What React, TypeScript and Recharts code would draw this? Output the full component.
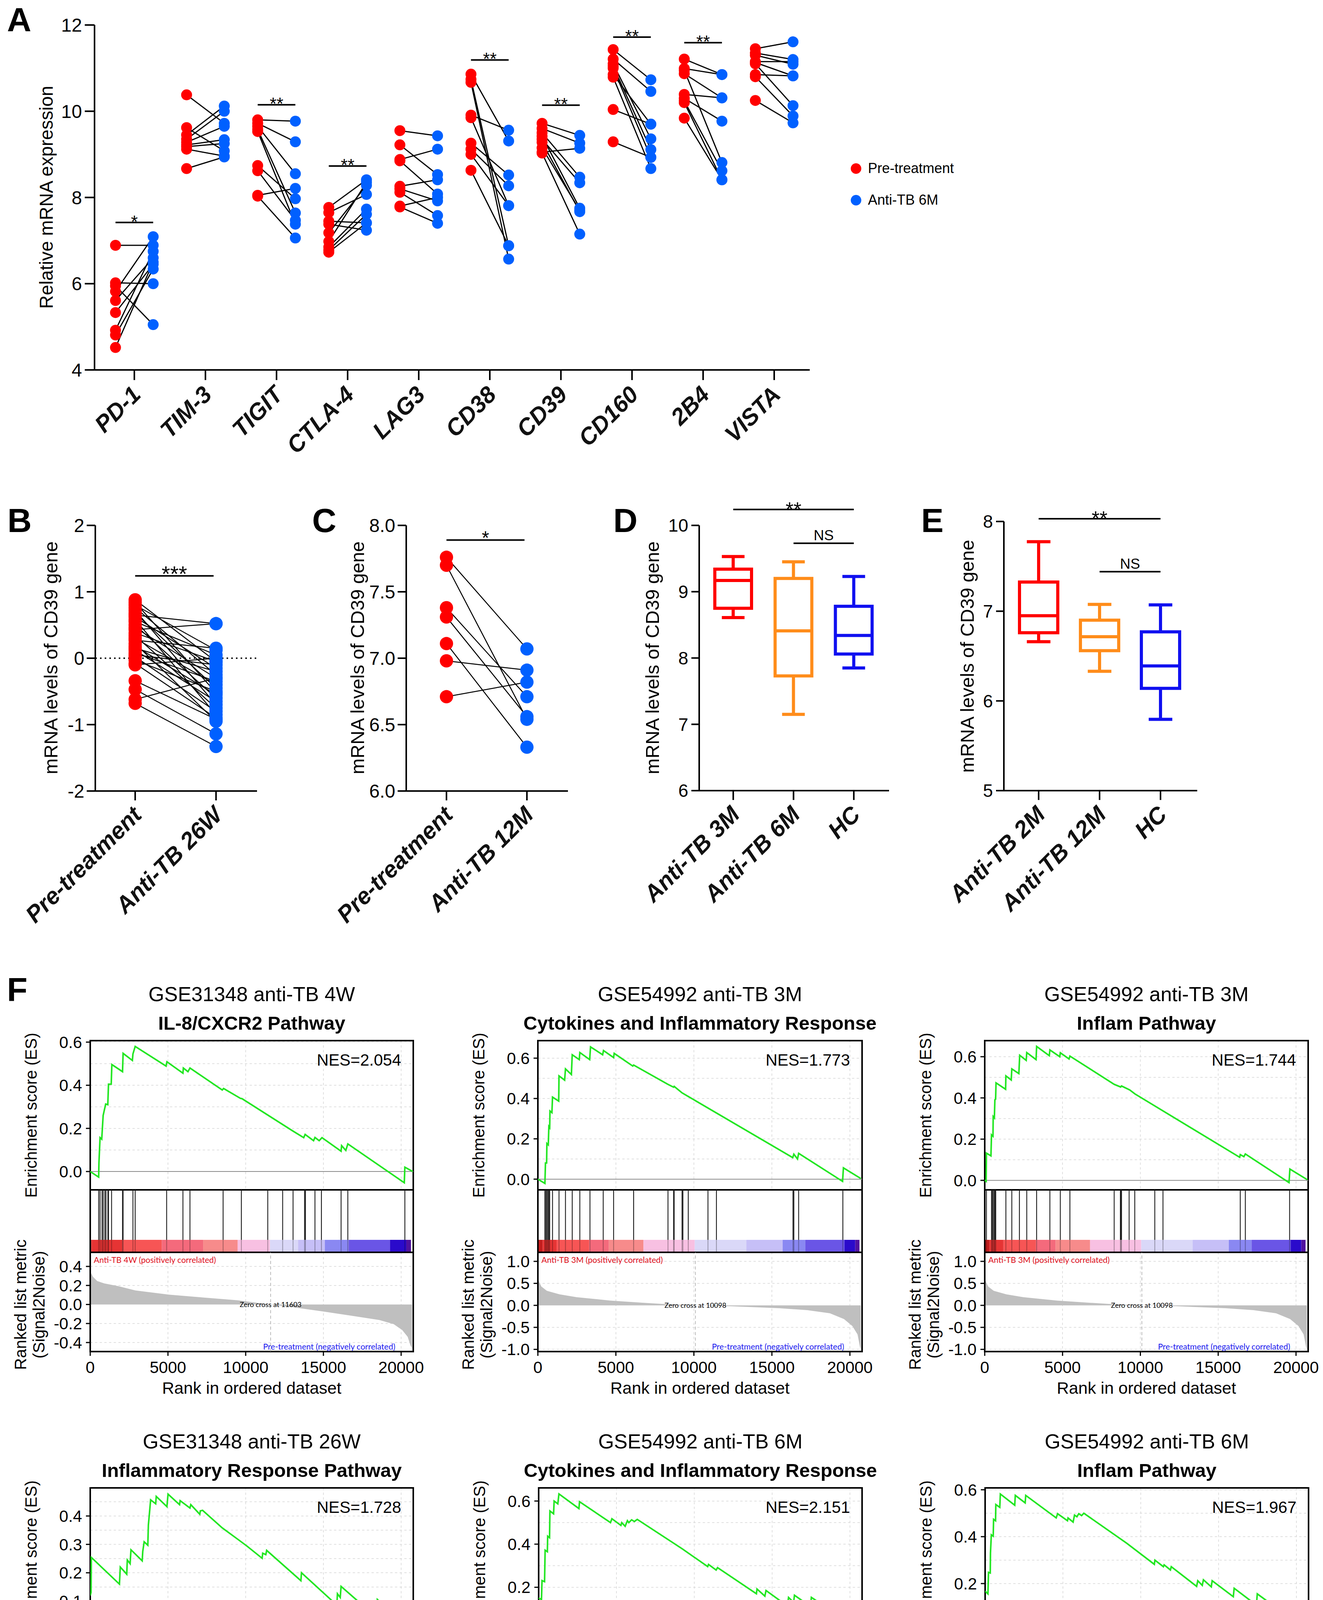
import {
  ComposedChart,
  LineChart,
  Line,
  AreaChart,
  Area,
  Scatter,
  Bar,
  XAxis,
  YAxis,
  CartesianGrid,
  ReferenceLine,
  ReferenceArea,
  ReferenceDot,
} from 'recharts'

const FONT = 'Arial, "Liberation Sans", Helvetica, sans-serif'
const SMALL_FONT = 'Lato, "Open Sans", sans-serif'

// ---------- panel A ----------
const genes = ['PD-1', 'TIM-3', 'TIGIT', 'CTLA-4', 'LAG3', 'CD38', 'CD39', 'CD160', '2B4', 'VISTA']
const preTreatmentA = [
  [6.89, 6.02, 5.95, 5.82, 5.61, 5.33, 4.92, 4.81, 4.52],
  [10.38, 9.62, 9.45, 9.35, 9.28, 9.22, 9.18, 9.12, 8.67],
  [9.8, 9.72, 9.65, 9.58, 9.53, 8.74, 8.62, 8.05, 8.03],
  [7.77, 7.65, 7.45, 7.38, 7.18, 6.98, 6.85, 6.78, 6.73],
  [9.55, 9.22, 8.88, 8.85, 8.26, 8.2, 8.12, 7.8, 7.78],
  [10.86, 10.74, 10.67, 9.91, 9.85, 9.26, 9.12, 9.0, 8.63],
  [9.72, 9.6, 9.5, 9.42, 9.35, 9.28, 9.05, 9.15, 9.03],
  [11.43, 11.21, 11.1, 11.05, 11.0, 10.85, 10.79, 10.04, 9.29],
  [11.21, 10.99, 10.95, 10.87, 10.39, 10.3, 10.24, 10.2, 9.84],
  [11.45, 11.35, 11.3, 11.15, 11.13, 11.1, 10.85, 10.8, 10.25],
]
const antiTB6MA = [
  [6.89, 6.0, 5.05, 7.09, 6.6, 6.45, 6.75, 6.34, 6.5],
  [9.72, 9.08, 10.12, 10.0, 9.65, 9.34, 9.25, 8.96, 8.94],
  [9.77, 9.29, 8.55, 7.64, 7.38, 7.97, 7.47, 8.21, 7.06],
  [8.41, 8.07, 7.41, 7.24, 8.28, 8.35, 7.73, 7.61, 7.41],
  [9.43, 8.53, 9.12, 8.08, 8.41, 7.92, 7.58, 8.0, 7.4],
  [9.31, 6.88, 6.57, 9.56, 7.81, 8.52, 8.27, 7.81, 6.88],
  [9.44, 9.26, 8.47, 7.75, 8.34, 7.67, 9.14, 7.7, 7.15],
  [10.73, 10.46, 9.36, 9.11, 8.93, 9.7, 8.67, 9.7, 8.93],
  [10.85, 10.85, 8.81, 10.31, 10.31, 9.77, 8.62, 8.41, 8.41],
  [11.61, 11.2, 11.09, 11.15, 10.82, 10.13, 10.82, 9.89, 9.73],
]
const sigGeneA = [0, 2, 3, 5, 6, 7, 8]
const sigHeightA = [7.42, 10.15, 8.73, 11.19, 10.14, 11.72, 11.59]
const sigTextA = ['*', '**', '**', '**', '**', '**', '**']

// ---------- panel B / C ----------
const groupsB = ['Pre-treatment', 'Anti-TB 26W']
const preB = [0.88, 0.84, 0.8, 0.76, 0.72, 0.68, 0.65, 0.62, 0.58, 0.55, 0.5, 0.46, 0.43, 0.38, 0.34, 0.3, 0.27, 0.22, 0.18, 0.15, 0.12, 0.08, 0.05, 0.02, -0.03, -0.08, -0.1, -0.34, -0.47, -0.62, -0.68]
const postB = [-0.05, -0.52, 0.12, -0.25, -0.7, -0.45, 0.52, -0.15, -0.85, 0.05, -0.6, -0.3, 0.52, -0.05, -0.75, -0.4, 0.15, -0.95, -0.55, -0.2, -0.65, -0.35, -0.1, -0.8, -0.5, -0.9, 0.0, -0.92, -1.14, -0.3, -1.33]
const groupsC = ['Pre-treatment', 'Anti-TB 12M']
const preC = [7.76, 7.7, 7.38, 7.31, 7.11, 6.98, 6.71]
const postC = [7.07, 6.54, 6.71, 6.56, 6.33, 6.91, 6.82]

// ---------- panel D / E (box plots) ----------
const groupsD = ['Anti-TB 3M', 'Anti-TB 6M', 'HC']
const minD = [8.61, 7.15, 7.85]
const q1D = [8.75, 7.73, 8.06]
const medD = [9.17, 8.41, 8.34]
const q3D = [9.34, 9.2, 8.78]
const maxD = [9.53, 9.45, 9.23]
const groupsE = ['Anti-TB 2M', 'Anti-TB 12M', 'HC']
const minE = [6.66, 6.33, 5.795]
const q1E = [6.76, 6.56, 6.14]
const medE = [6.95, 6.716, 6.39]
const q3E = [7.325, 6.9, 6.77]
const maxE = [7.775, 7.076, 7.07]
const boxColors = ['#ff0000', '#ff8c1a', '#1010f0']

// ---------- panel F (GSEA) ----------
const gseaTitles = ['GSE31348 anti-TB 4W', 'GSE54992 anti-TB 3M', 'GSE54992 anti-TB 3M', 'GSE31348 anti-TB 26W', 'GSE54992 anti-TB 6M', 'GSE54992 anti-TB 6M']
const gseaPathways = ['IL-8/CXCR2 Pathway', 'Cytokines and Inflammatory Response', 'Inflam Pathway', 'Inflammatory Response Pathway', 'Cytokines and Inflammatory Response', 'Inflam Pathway']
const gseaNes = ['2.054', '1.773', '1.744', '1.728', '2.151', '1.967']
const zeroCross = [11603, 10098, 10098, 8470, 8998, 8998]
const posGroup = ['Anti-TB 4W', 'Anti-TB 3M', 'Anti-TB 3M', 'Anti-TB 26W', 'Anti-TB 6M', 'Anti-TB 6M']
const GENES_N = 20780

const es1 = [[0, 0], [542, -0.026], [560, 0.039], [632, 0.157], [740, 0.15], [831, 0.26], [994, 0.313], [1130, 0.31], [1175, 0.405], [1350, 0.405], [1391, 0.496], [2078, 0.463], [2114, 0.548], [2711, 0.515], [2747, 0.545], [2891, 0.58], [4879, 0.489], [4933, 0.509], [5963, 0.456], [5990, 0.48], [6288, 0.463], [6415, 0.48], [8493, 0.378], [8580, 0.385], [9667, 0.339], [9760, 0.338], [13010, 0.189], [13733, 0.157], [13823, 0.172], [14366, 0.143], [14456, 0.158], [14727, 0.143], [14908, 0.157], [16136, 0.094], [16170, 0.12], [16443, 0.098], [16570, 0.128], [20203, -0.052], [20239, 0.02], [20745, 0]]
const es2 = [[0, 0], [451, -0.021], [487, 0.08], [560, 0.08], [578, 0.177], [668, 0.17], [704, 0.261], [758, 0.255], [776, 0.338], [900, 0.33], [939, 0.407], [1336, 0.387], [1354, 0.512], [1715, 0.491], [1769, 0.547], [2148, 0.519], [2202, 0.617], [2653, 0.593], [2689, 0.628], [3321, 0.593], [3375, 0.656], [4151, 0.617], [4206, 0.638], [4855, 0.603], [4891, 0.624], [6083, 0.561], [6137, 0.566], [8339, 0.47], [8700, 0.456], [8736, 0.46], [9241, 0.428], [9639, 0.41], [16335, 0.107], [16407, 0.124], [16642, 0.1], [16714, 0.128], [19530, -0.011], [19584, 0.056], [20703, 0.003]]
const es3 = [[0, 0], [90, -0.005], [109, 0.132], [399, 0.119], [435, 0.221], [530, 0.214], [544, 0.31], [620, 0.303], [652, 0.391], [700, 0.394], [725, 0.473], [1341, 0.442], [1359, 0.507], [1703, 0.487], [1740, 0.541], [2193, 0.518], [2247, 0.607], [2664, 0.582], [2700, 0.62], [3298, 0.586], [3334, 0.65], [4149, 0.605], [4186, 0.633], [4820, 0.6], [4856, 0.619], [5418, 0.589], [5472, 0.603], [8317, 0.466], [8734, 0.453], [8788, 0.458], [9314, 0.439], [9640, 0.42], [16380, 0.112], [16417, 0.125], [16652, 0.115], [16743, 0.128], [19551, -0.011], [19606, 0.055], [20729, 0.003]]
const es4 = [[0, 0.12], [54, 0.131], [72, 0.254], [1879, 0.16], [1933, 0.22], [2349, 0.195], [2385, 0.245], [2566, 0.232], [2620, 0.281], [3343, 0.242], [3379, 0.275], [3469, 0.309], [3704, 0.297], [3740, 0.368], [3831, 0.423], [3885, 0.457], [4210, 0.443], [4246, 0.469], [4933, 0.433], [5005, 0.477], [5746, 0.44], [5782, 0.454], [6415, 0.428], [6469, 0.44], [7047, 0.406], [7083, 0.418], [7228, 0.42], [8493, 0.358], [9541, 0.316], [10083, 0.294], [11059, 0.251], [11095, 0.269], [11294, 0.264], [11348, 0.279], [13552, 0.172], [13588, 0.2], [15865, 0.086], [15901, 0.126], [16082, 0.113], [16136, 0.152], [18431, 0.042], [18467, 0.106], [20690, 0]]
const es5 = [[0, 0.15], [181, 0.143], [217, 0.231], [380, 0.226], [398, 0.3], [416, 0.372], [560, 0.365], [579, 0.437], [700, 0.43], [724, 0.554], [959, 0.541], [995, 0.6], [1231, 0.587], [1303, 0.633], [2588, 0.565], [2625, 0.597], [4616, 0.5], [4706, 0.518], [5285, 0.487], [5340, 0.5], [5557, 0.483], [5702, 0.509], [5792, 0.5], [5973, 0.513], [6150, 0.505], [6335, 0.515], [9231, 0.378], [10860, 0.296], [10914, 0.306], [11403, 0.28], [11494, 0.291], [13991, 0.17], [14028, 0.192], [14534, 0.159], [14607, 0.185], [15982, 0.113], [16055, 0.153], [16381, 0.13], [16435, 0.163], [17467, 0.111], [17521, 0.153], [20725, 0]]
const es6 = [[0, 0.168], [181, 0.156], [217, 0.248], [330, 0.245], [344, 0.33], [399, 0.408], [520, 0.402], [544, 0.474], [670, 0.468], [688, 0.537], [942, 0.525], [978, 0.582], [1902, 0.534], [1939, 0.576], [2573, 0.544], [2609, 0.576], [4566, 0.48], [4657, 0.498], [5291, 0.468], [5327, 0.48], [5653, 0.462], [5744, 0.492], [5900, 0.485], [6016, 0.498], [6200, 0.49], [6342, 0.5], [9096, 0.372], [10872, 0.282], [10908, 0.3], [11452, 0.272], [11500, 0.28], [11905, 0.258], [11959, 0.272], [13590, 0.188], [13662, 0.212], [13952, 0.192], [14025, 0.216], [14532, 0.186], [14587, 0.212], [15946, 0.144], [16000, 0.18], [17431, 0.108], [17486, 0.156], [20693, 0]]

const hits1 = [542, 632, 759, 831, 940, 1012, 1138, 1175, 1373, 2078, 2114, 2747, 2891, 4915, 5963, 6415, 8547, 9722, 11420, 12378, 13047, 13788, 13842, 14456, 14872, 16137, 16570, 20239]
const hits2 = [451, 487, 560, 596, 668, 704, 758, 939, 1354, 1769, 2202, 2689, 3339, 4188, 4855, 6137, 8339, 8700, 8736, 9242, 9296, 9639, 10902, 11444, 16353, 16407, 16714, 19548]
const hits3 = [109, 435, 489, 544, 616, 652, 707, 1359, 1740, 2229, 2700, 3334, 4186, 4856, 5472, 8317, 8716, 8752, 8788, 9277, 9640, 10926, 11452, 16417, 16743, 19588]
const hits4 = [54, 1879, 2367, 2584, 3379, 3469, 3740, 3795, 3831, 3885, 3921, 4246, 4969, 5005, 5782, 6451, 7065, 7101, 7228, 8493, 9541, 10083, 11059, 11095, 11348, 13588, 15884, 16137, 18467]
const hits5 = [217, 308, 398, 489, 579, 724, 995, 1285, 2625, 4652, 5340, 5702, 5792, 5883, 6064, 6190, 6335, 9177, 10896, 11457, 13991, 14571, 16019, 16381, 17503]
const hits6 = [217, 272, 344, 399, 507, 544, 652, 688, 978, 1939, 2609, 4639, 5327, 5708, 5798, 6161, 6306, 6342, 9187, 10872, 11470, 11941, 13626, 13988, 14568, 15982, 17468]

const metric4W = [[0, 0.38], [20, 0.34], [180, 0.29], [450, 0.246], [900, 0.222], [1800, 0.193], [2900, 0.148], [5060, 0.104], [7230, 0.074], [9490, 0.044], [11603, 0.0], [13100, -0.03], [15000, -0.074], [16800, -0.118], [18600, -0.163], [19520, -0.207], [20060, -0.267], [20420, -0.34], [20600, -0.43], [20700, -0.46]]
const metric3M = [[0, 0.6], [36, 0.57], [217, 0.43], [578, 0.33], [1390, 0.25], [2473, 0.186], [4640, 0.109], [6805, 0.058], [8070, 0.032], [10098, 0], [12220, -0.019], [15470, -0.064], [17274, -0.109], [18718, -0.18], [19620, -0.31], [20160, -0.47], [20487, -0.66], [20650, -0.95], [20700, -1.0]]
const metric26W = [[0, 0.75], [36, 0.67], [180, 0.56], [540, 0.45], [1445, 0.35], [3250, 0.22], [5060, 0.134], [6870, 0.06], [8470, 0], [10480, -0.075], [13190, -0.164], [15900, -0.26], [17710, -0.336], [19150, -0.43], [19880, -0.56], [20330, -0.75], [20560, -0.97], [20650, -1.3]]
const metric6M = [[0, 0.62], [36, 0.57], [181, 0.43], [543, 0.33], [1357, 0.25], [2805, 0.19], [4616, 0.124], [6607, 0.055], [8780, 0.02], [8998, 0], [10950, -0.048], [13665, -0.117], [16380, -0.186], [18190, -0.254], [19460, -0.357], [20180, -0.53], [20507, -0.7], [20650, -1.18]]

const bins4W = [90, 2078, 4608, 7264, 9487, 11565, 13372, 15088, 16624, 19280, 20328, 20635]
const bins3M = [307, 1200, 3285, 4549, 6769, 10054, 13357, 15685, 17148, 19656, 20342, 20613]
const bins26W = [50, 940, 3343, 4788, 6451, 8493, 10752, 13335, 15630, 18919, 20148, 20636]
const bins6M = [235, 1200, 3204, 4670, 6643, 8960, 11494, 13973, 15982, 19367, 20290, 20634]

const esCurves = [es1, es2, es3, es4, es5, es6]
const hitRanks = [hits1, hits2, hits3, hits4, hits5, hits6]
const metricCurves = [metric4W, metric3M, metric3M, metric26W, metric6M, metric6M]
const colorBins = [bins4W, bins3M, bins3M, bins26W, bins6M, bins6M]

// axis settings for the GSEA panels
const esDomains = [[-0.085, 0.607], [-0.053, 0.687], [-0.046, 0.678], [-0.028, 0.499], [-0.033, 0.661], [-0.03, 0.608]]
const metricDomains = [[-0.495, 0.548], [-1.05, 1.205], [-1.05, 1.205], [-1.455, 1.19], [-1.29, 1.15], [-1.29, 1.15]]
const esTickSets = [[0, 0.2, 0.4, 0.6], [0, 0.2, 0.4, 0.6], [0, 0.2, 0.4, 0.6], [0, 0.1, 0.2, 0.3, 0.4], [0, 0.2, 0.4, 0.6], [0, 0.2, 0.4, 0.6]]
const metricTickSets = [[-0.4, -0.2, 0, 0.2, 0.4], [-1, -0.5, 0, 0.5, 1], [-1, -0.5, 0, 0.5, 1], [-1, -0.5, 0, 0.5, 1], [-1, -0.5, 0, 0.5, 1], [-1, -0.5, 0, 0.5, 1]]
const barPalette = ['#c41e1e', '#e63434', '#f75555', '#f46a7c', '#f78b8b', '#f8c0e2', '#dad8f8', '#c6bff7', '#8a88f2', '#6a55e6', '#2a0acb', '#50129e']

// layout
const gseaBoxX = [[231, 1058], [1377, 2207], [2521, 3349], [231, 1058], [1379, 2207], [2522, 3350]]
const gseaRows = [
  { es: 2664, hits: 3046, met: 3206, bottom: 3460 },
  { es: 3809, hits: 4192, met: 4351, bottom: 4607 },
]

const OFF = 0.265

type TxtProps = {
  x: number
  y: number
  size: number
  children: any
  anchor?: 'start' | 'middle' | 'end'
  bold?: boolean
  italic?: boolean
  color?: string
  rotate?: number
  family?: string
}

function Txt({ x, y, size, children, anchor = 'middle', bold, italic, color = '#000', rotate, family }: TxtProps) {
  const tx = anchor === 'middle' ? '-50%' : anchor === 'end' ? '-100%' : '0'
  return (
    <div
      style={{
        position: 'absolute',
        left: x,
        top: y,
        fontSize: size,
        lineHeight: 1,
        whiteSpace: 'nowrap',
        fontWeight: bold ? 700 : 400,
        fontStyle: italic ? 'italic' : 'normal',
        color,
        fontFamily: family || FONT,
        transform: `translate(${tx}, -50%)${rotate ? ` rotate(${rotate}deg)` : ''}`,
      }}
    >
      {children}
    </div>
  )
}

const AngledTick = (props: any) => {
  const { x, y, payload, names } = props
  const label = names ? names[payload.value] : payload.value
  const ax = x + 20
  const ay = y + 41
  return (
    <text
      x={ax}
      y={ay}
      transform={`rotate(-45 ${ax} ${ay})`}
      textAnchor="end"
      fontSize={60}
      fontWeight={700}
      fontStyle="italic"
      fill="#111"
      fontFamily={FONT}
    >
      {label}
    </text>
  )
}

const SigText = (props: any) => {
  const vb = props.viewBox
  if (!vb) return null
  return (
    <text
      x={vb.x + (vb.width || 0) / 2}
      y={vb.y + props.dy}
      textAnchor="middle"
      fontSize={props.size}
      fill="#000"
      fontFamily={FONT}
    >
      {props.text}
    </text>
  )
}

const dotShape = (color: string, r: number) => (p: any) => <circle cx={p.cx} cy={p.cy} r={r} fill={color} />

const axisStyle = { stroke: '#000', strokeWidth: 4 }

function PanelA() {
  const red = genes.flatMap((_, i) => preTreatmentA[i].map((v) => ({ x: i - OFF, y: v })))
  const blue = genes.flatMap((_, i) => antiTB6MA[i].map((v) => ({ x: i + OFF, y: v })))
  return (
    <div style={{ position: 'absolute', left: 0, top: 0 }}>
      <ComposedChart width={2200} height={1250} margin={{ top: 64, right: 127, left: 0, bottom: 0 }}>
        <XAxis
          type="number"
          dataKey="x"
          domain={[-0.56, 9.5]}
          ticks={genes.map((_, i) => i)}
          interval={0}
          height={303}
          tickSize={26}
          tickMargin={0}
          axisLine={axisStyle}
          tickLine={axisStyle}
          tick={<AngledTick names={genes} />}
          allowDataOverflow
        />
        <YAxis
          type="number"
          dataKey="y"
          domain={[4, 12]}
          ticks={[4, 6, 8, 10, 12]}
          interval={0}
          width={242}
          tickSize={25}
          tickMargin={7}
          axisLine={axisStyle}
          tickLine={axisStyle}
          tick={{ fontSize: 48, fill: '#000' }}
          allowDataOverflow
        />
        {genes.flatMap((g, i) =>
          preTreatmentA[i].map((v, j) => (
            <Line
              key={`${g}-${j}`}
              data={[
                { x: i - OFF, y: v },
                { x: i + OFF, y: antiTB6MA[i][j] },
              ]}
              dataKey="y"
              stroke="#000"
              strokeWidth={3}
              dot={false}
              activeDot={false}
              legendType="none"
              isAnimationActive={false}
            />
          )),
        )}
        {sigGeneA.map((gi, k) => (
          <ReferenceLine
            key={`sig-${k}`}
            segment={[
              { x: gi - OFF, y: sigHeightA[k] },
              { x: gi + OFF, y: sigHeightA[k] },
            ]}
            stroke="#000"
            strokeWidth={4}
            ifOverflow="visible"
            label={<SigText text={sigTextA[k]} dy={13} size={45} />}
          />
        ))}
        <Scatter data={red} shape={dotShape('#ff0000', 14)} isAnimationActive={false} />
        <Scatter data={blue} shape={dotShape('#0060ff', 14)} isAnimationActive={false} />
      </ComposedChart>
    </div>
  )
}

function PairedPanel(props: {
  left: number
  top: number
  yWidth: number
  right: number
  xDomain: number[]
  yDomain: number[]
  yTicks: number[]
  fmt: (v: number) => string
  groups: string[]
  pre: number[]
  post: number[]
  sigY: number
  sigText: string
  sigSize: number
  sigDy: number
  zeroLine?: boolean
}) {
  const { pre, post } = props
  const red = pre.map((v) => ({ x: 0, y: v }))
  const blue = post.map((v) => ({ x: 1, y: v }))
  return (
    <div style={{ position: 'absolute', left: props.left, top: props.top }}>
      <ComposedChart width={700} height={1000} margin={{ top: 45, right: props.right, left: 0, bottom: 0 }}>
        <XAxis
          type="number"
          dataKey="x"
          domain={props.xDomain}
          ticks={[0, 1]}
          interval={0}
          height={275}
          tickSize={24}
          tickMargin={0}
          axisLine={axisStyle}
          tickLine={axisStyle}
          tick={<AngledTick names={props.groups} />}
          allowDataOverflow
        />
        <YAxis
          type="number"
          dataKey="y"
          domain={props.yDomain}
          ticks={props.yTicks}
          tickFormatter={props.fmt}
          interval={0}
          width={props.yWidth}
          tickSize={22}
          tickMargin={6}
          axisLine={axisStyle}
          tickLine={axisStyle}
          tick={{ fontSize: 48, fill: '#000' }}
          allowDataOverflow
        />
        {props.zeroLine && <ReferenceLine y={0} stroke="#000" strokeWidth={3.5} strokeDasharray="4 8" />}
        {pre.map((v, j) => (
          <Line
            key={`p-${j}`}
            data={[
              { x: 0, y: v },
              { x: 1, y: post[j] },
            ]}
            dataKey="y"
            stroke="#000"
            strokeWidth={2.5}
            dot={false}
            activeDot={false}
            legendType="none"
            isAnimationActive={false}
          />
        ))}
        <ReferenceLine
          segment={[
            { x: 0, y: props.sigY },
            { x: 0.97, y: props.sigY },
          ]}
          stroke="#000"
          strokeWidth={4}
          ifOverflow="visible"
          label={<SigText text={props.sigText} dy={props.sigDy} size={props.sigSize} />}
        />
        <Scatter data={red} shape={dotShape('#ff0000', 17)} isAnimationActive={false} />
        <Scatter data={blue} shape={dotShape('#0060ff', 17)} isAnimationActive={false} />
      </ComposedChart>
    </div>
  )
}

const BoxShape = (props: any) => {
  const { x, y, width, height, payload, index } = props
  if (payload == null) return null
  const top = Math.min(y, y + height)
  const h = Math.abs(height)
  const span = payload.max - payload.min
  const py = (v: number) => top + ((payload.max - v) / span) * h
  const color = boxColors[index % boxColors.length]
  const sw = 8
  const cx = x + width / 2
  const cap = width * 0.57
  return (
    <g stroke={color} strokeWidth={sw} fill="none">
      <line x1={cx} x2={cx} y1={py(payload.max)} y2={py(payload.q3)} />
      <line x1={cx} x2={cx} y1={py(payload.q1)} y2={py(payload.min)} />
      <line x1={cx - cap / 2} x2={cx + cap / 2} y1={py(payload.max)} y2={py(payload.max)} />
      <line x1={cx - cap / 2} x2={cx + cap / 2} y1={py(payload.min)} y2={py(payload.min)} />
      <rect x={x + sw / 2} y={py(payload.q3)} width={width - sw} height={py(payload.q1) - py(payload.q3)} fill="#fff" />
      <line x1={x + sw / 2} x2={x + width - sw / 2} y1={py(payload.med)} y2={py(payload.med)} />
    </g>
  )
}

function BoxPanel(props: {
  left: number
  top: number
  marginTop: number
  right: number
  padL: number
  padR: number
  barSize: number
  groups: string[]
  mins: number[]
  q1s: number[]
  meds: number[]
  q3s: number[]
  maxs: number[]
  yDomain: number[]
  yTicks: number[]
  allY: number
  allDy: number
  nsY: number
}) {
  const data = props.groups.map((g, i) => ({
    g,
    min: props.mins[i],
    q1: props.q1s[i],
    med: props.meds[i],
    q3: props.q3s[i],
    max: props.maxs[i],
  }))
  const [g0, g1, g2] = props.groups
  return (
    <div style={{ position: 'absolute', left: props.left, top: props.top }}>
      <ComposedChart width={780} height={1074} data={data} margin={{ top: props.marginTop, right: props.right, left: 0, bottom: 0 }}>
        <XAxis
          type="category"
          dataKey="g"
          padding={{ left: props.padL, right: props.padR }}
          interval={0}
          height={300}
          tickSize={24}
          tickMargin={0}
          axisLine={axisStyle}
          tickLine={axisStyle}
          tick={<AngledTick />}
        />
        <YAxis
          type="number"
          domain={props.yDomain}
          ticks={props.yTicks}
          interval={0}
          width={240}
          tickSize={20}
          tickMargin={8}
          axisLine={axisStyle}
          tickLine={axisStyle}
          tick={{ fontSize: 46, fill: '#000' }}
          allowDataOverflow
        />
        <Bar dataKey={(d: any) => [d.min, d.max]} barSize={props.barSize} shape={<BoxShape />} isAnimationActive={false} />
        <ReferenceLine
          segment={[
            { x: g0, y: props.allY },
            { x: g2, y: props.allY },
          ]}
          stroke="#000"
          strokeWidth={4}
          ifOverflow="visible"
          label={<SigText text="**" dy={props.allDy} size={52} />}
        />
        <ReferenceLine
          segment={[
            { x: g1, y: props.nsY },
            { x: g2, y: props.nsY },
          ]}
          stroke="#000"
          strokeWidth={4}
          ifOverflow="visible"
          label={<SigText text="NS" dy={-8} size={37} />}
        />
      </ComposedChart>
    </div>
  )
}

function GseaPanel({ k }: { k: number }) {
  const [bx0, bx1] = gseaBoxX[k]
  const row = gseaRows[k < 3 ? 0 : 1]
  const bw = bx1 - bx0
  const YW = 140
  const MR = 8
  const left = bx0 - YW
  const width = YW + bw + MR
  const cx = (bx0 + bx1) / 2
  const esH = row.hits - row.es
  const hitsH = row.met - row.hits
  const metH = row.bottom - row.met
  const XH = 70
  const esData = esCurves[k].map(([r, v]) => ({ r, v }))
  const metData = metricCurves[k].map(([r, v]) => ({ r, v }))
  const hits = hitRanks[k]
  const bins = colorBins[k]
  const esDom = esDomains[k]
  const mDom = metricDomains[k]
  const esTicks = esTickSets[k]
  const step = esTicks[1] - esTicks[0]
  const esGrid = [1, 2, 3, 4, 5, 6, 7, 8, 9].map((n) => +(n * step / 2).toFixed(3)).filter((v) => v < esDom[1])
  const xTicks = [0, 5000, 10000, 15000, 20000]
  const fmt1 = (v: number) => v.toFixed(1)
  const tickLine = { stroke: '#000', strokeWidth: 3 }
  const border = (y1: number, y2: number) => (
    <ReferenceArea x1={0} x2={GENES_N} y1={y1} y2={y2} fill="none" stroke="#000" strokeWidth={4} ifOverflow="visible" />
  )
  return (
    <>
      <Txt x={cx} y={row.es - 119} size={52}>
        {gseaTitles[k]}
      </Txt>
      <Txt x={cx} y={row.es - 45} size={49} bold>
        {gseaPathways[k]}
      </Txt>
      <Txt x={bx0 - 151} y={row.es + esH / 2} size={42} rotate={-90}>
        Enrichment score (ES)
      </Txt>
      <Txt x={bx0 - 178} y={row.met + metH / 2 + 7} size={42} rotate={-90}>
        Ranked list metric
      </Txt>
      <Txt x={bx0 - 131} y={row.met + metH / 2 + 7} size={42} rotate={-90}>
        (Signal2Noise)
      </Txt>
      <Txt x={cx} y={row.bottom + 93} size={43}>
        Rank in ordered dataset
      </Txt>
      <div style={{ position: 'absolute', left, top: row.es }}>
        <LineChart width={width} height={esH} data={esData} margin={{ top: 0, right: MR, left: 0, bottom: 0 }}>
          <CartesianGrid
            stroke="#d6d6d6"
            strokeDasharray="6 6"
            strokeWidth={1.5}
            horizontalValues={esGrid}
            verticalValues={xTicks}
          />
          <XAxis type="number" dataKey="r" domain={[0, GENES_N]} ticks={xTicks} hide allowDataOverflow />
          <YAxis
            type="number"
            domain={esDom}
            ticks={esTicks}
            tickFormatter={fmt1}
            interval={0}
            width={YW}
            tickSize={11}
            tickMargin={10}
            axisLine={false}
            tickLine={tickLine}
            tick={{ fontSize: 42, fill: '#000' }}
            allowDataOverflow
          />
          <ReferenceLine y={0} stroke="#8a8a8a" strokeWidth={2} />
          <Line type="linear" dataKey="v" stroke="#22e622" strokeWidth={4} dot={false} activeDot={false} isAnimationActive={false} />
          {border(esDom[0], esDom[1])}
        </LineChart>
      </div>
      <Txt x={bx1 - 31} y={row.es + 50} size={42} anchor="end">
        NES={gseaNes[k]}
      </Txt>
      <div style={{ position: 'absolute', left, top: row.hits }}>
        <ComposedChart
          width={width}
          height={hitsH}
          data={hits.map((r) => ({ r, y: 0.5 }))}
          margin={{ top: 0, right: MR, left: YW, bottom: 0 }}
        >
          <XAxis type="number" dataKey="r" domain={[0, GENES_N]} hide allowDataOverflow />
          <YAxis type="number" domain={[0, 1]} hide allowDataOverflow />
          {bins.map((end, j) => (
            <ReferenceArea
              key={`bin-${j}`}
              x1={j === 0 ? 0 : bins[j - 1]}
              x2={end}
              y1={0.005}
              y2={0.2}
              fill={barPalette[j]}
              fillOpacity={1}
              stroke="none"
              ifOverflow="visible"
            />
          ))}
          {hits.map((h, j) => (
            <ReferenceLine
              key={`hf-${j}`}
              segment={[
                { x: h, y: 0.005 },
                { x: h, y: 0.2 },
              ]}
              stroke="#000"
              strokeOpacity={0.3}
              strokeWidth={2.2}
            />
          ))}
          {hits.map((h, j) => (
            <ReferenceLine
              key={`h-${j}`}
              segment={[
                { x: h, y: 0.2 },
                { x: h, y: 1 },
              ]}
              stroke="#1a1a1a"
              strokeWidth={2.2}
            />
          ))}
          {border(0, 1)}
        </ComposedChart>
      </div>
      <div style={{ position: 'absolute', left, top: row.met }}>
        <AreaChart width={width} height={metH + XH} data={metData} margin={{ top: 0, right: MR, left: 0, bottom: 0 }}>
          <CartesianGrid
            stroke="#d6d6d6"
            strokeDasharray="6 6"
            strokeWidth={1.5}
            horizontalValues={metricTickSets[k].filter((v) => v !== 0)}
            verticalValues={xTicks}
          />
          <XAxis
            type="number"
            dataKey="r"
            domain={[0, GENES_N]}
            ticks={xTicks}
            interval={0}
            height={XH}
            tickSize={11}
            tickMargin={14}
            axisLine={false}
            tickLine={tickLine}
            tick={{ fontSize: 42, fill: '#000' }}
            allowDataOverflow
          />
          <YAxis
            type="number"
            domain={mDom}
            ticks={metricTickSets[k]}
            tickFormatter={fmt1}
            interval={0}
            width={YW}
            tickSize={11}
            tickMargin={10}
            axisLine={false}
            tickLine={tickLine}
            tick={{ fontSize: 42, fill: '#000' }}
            allowDataOverflow
          />
          <Area type="linear" dataKey="v" stroke="none" fill="#bfbfbf" fillOpacity={1} isAnimationActive={false} />
          <ReferenceLine x={zeroCross[k]} stroke="#a8a8a8" strokeWidth={1.5} strokeDasharray="8 6" />
          <ReferenceDot
            x={zeroCross[k]}
            y={0}
            r={0}
            fill="none"
            stroke="none"
            label={{ value: `Zero cross at ${zeroCross[k]}`, position: 'center', fontSize: 18, fill: '#000', fontFamily: SMALL_FONT }}
          />
          {border(mDom[0], mDom[1])}
        </AreaChart>
      </div>
      <Txt x={bx0 + 9} y={row.met + 18} size={21} anchor="start" color="#e01020" family={SMALL_FONT}>
        {posGroup[k]} (positively correlated)
      </Txt>
      <Txt x={bx1 - 46} y={row.bottom - 14} size={21} anchor="end" color="#1a1aee" family={SMALL_FONT}>
        Pre-treatment (negatively correlated)
      </Txt>
    </>
  )
}

export default function App() {
  return (
    <div
      style={{
        position: 'absolute',
        left: 0,
        top: 0,
        width: 3387,
        height: 4724,
        background: '#fff',
        fontFamily: FONT,
        overflow: 'hidden',
      }}
    >
      <style>{'.recharts-surface, .recharts-wrapper svg { overflow: visible; }'}</style>
      <PanelA />
      <Txt x={119} y={505} size={48} rotate={-90}>
        Relative mRNA expression
      </Txt>
      <div style={{ position: 'absolute', left: 2178, top: 418, width: 27, height: 27, borderRadius: '50%', background: '#ff0000' }} />
      <div style={{ position: 'absolute', left: 2178, top: 499, width: 27, height: 27, borderRadius: '50%', background: '#0060ff' }} />
      <Txt x={2222} y={431} size={36} anchor="start">
        Pre-treatment
      </Txt>
      <Txt x={2222} y={512} size={36} anchor="start">
        Anti-TB 6M
      </Txt>

      <PairedPanel
        left={0}
        top={1300}
        yWidth={244}
        right={42}
        xDomain={[-0.493, 1.507]}
        yDomain={[-2, 2]}
        yTicks={[-2, -1, 0, 1, 2]}
        fmt={(v) => String(v)}
        groups={groupsB}
        pre={preB}
        post={postB}
        sigY={1.24}
        sigText="***"
        sigSize={56}
        sigDy={14}
        zeroLine
      />
      <PairedPanel
        left={800}
        top={1300}
        yWidth={240}
        right={46}
        xDomain={[-0.5, 1.51]}
        yDomain={[6, 8]}
        yTicks={[6, 6.5, 7, 7.5, 8]}
        fmt={(v) => v.toFixed(1)}
        groups={groupsC}
        pre={preC}
        post={postC}
        sigY={7.89}
        sigText="*"
        sigSize={48}
        sigDy={11}
      />
      <BoxPanel
        left={1550}
        top={1250}
        marginTop={95}
        right={54}
        padL={10}
        padR={13}
        barSize={102}
        groups={groupsD}
        mins={minD}
        q1s={q1D}
        meds={medD}
        q3s={q3D}
        maxs={maxD}
        yDomain={[6, 10]}
        yTicks={[6, 7, 8, 9, 10]}
        allY={10.24}
        allDy={18}
        nsY={9.73}
      />
      <BoxPanel
        left={2330}
        top={1250}
        marginTop={85}
        right={45}
        padL={11}
        padR={16}
        barSize={106}
        groups={groupsE}
        mins={minE}
        q1s={q1E}
        meds={medE}
        q3s={q3E}
        maxs={maxE}
        yDomain={[5, 8]}
        yTicks={[5, 6, 7, 8]}
        allY={8.03}
        allDy={17}
        nsY={7.44}
      />
      <Txt x={130} y={1684} size={49} rotate={-90}>
        mRNA levels of CD39 gene
      </Txt>
      <Txt x={915} y={1684} size={49} rotate={-90}>
        mRNA levels of CD39 gene
      </Txt>
      <Txt x={1670} y={1684} size={49} rotate={-90}>
        mRNA levels of CD39 gene
      </Txt>
      <Txt x={2476} y={1680} size={49} rotate={-90}>
        mRNA levels of CD39 gene
      </Txt>

      {[0, 1, 2, 3, 4, 5].map((k) => (
        <GseaPanel key={k} k={k} />
      ))}

      <Txt x={49} y={50} size={86} bold>
        A
      </Txt>
      <Txt x={50} y={1332} size={86} bold>
        B
      </Txt>
      <Txt x={830} y={1332} size={86} bold>
        C
      </Txt>
      <Txt x={1601} y={1332} size={86} bold>
        D
      </Txt>
      <Txt x={2387} y={1332} size={86} bold>
        E
      </Txt>
      <Txt x={44} y={2533} size={86} bold>
        F
      </Txt>
    </div>
  )
}
